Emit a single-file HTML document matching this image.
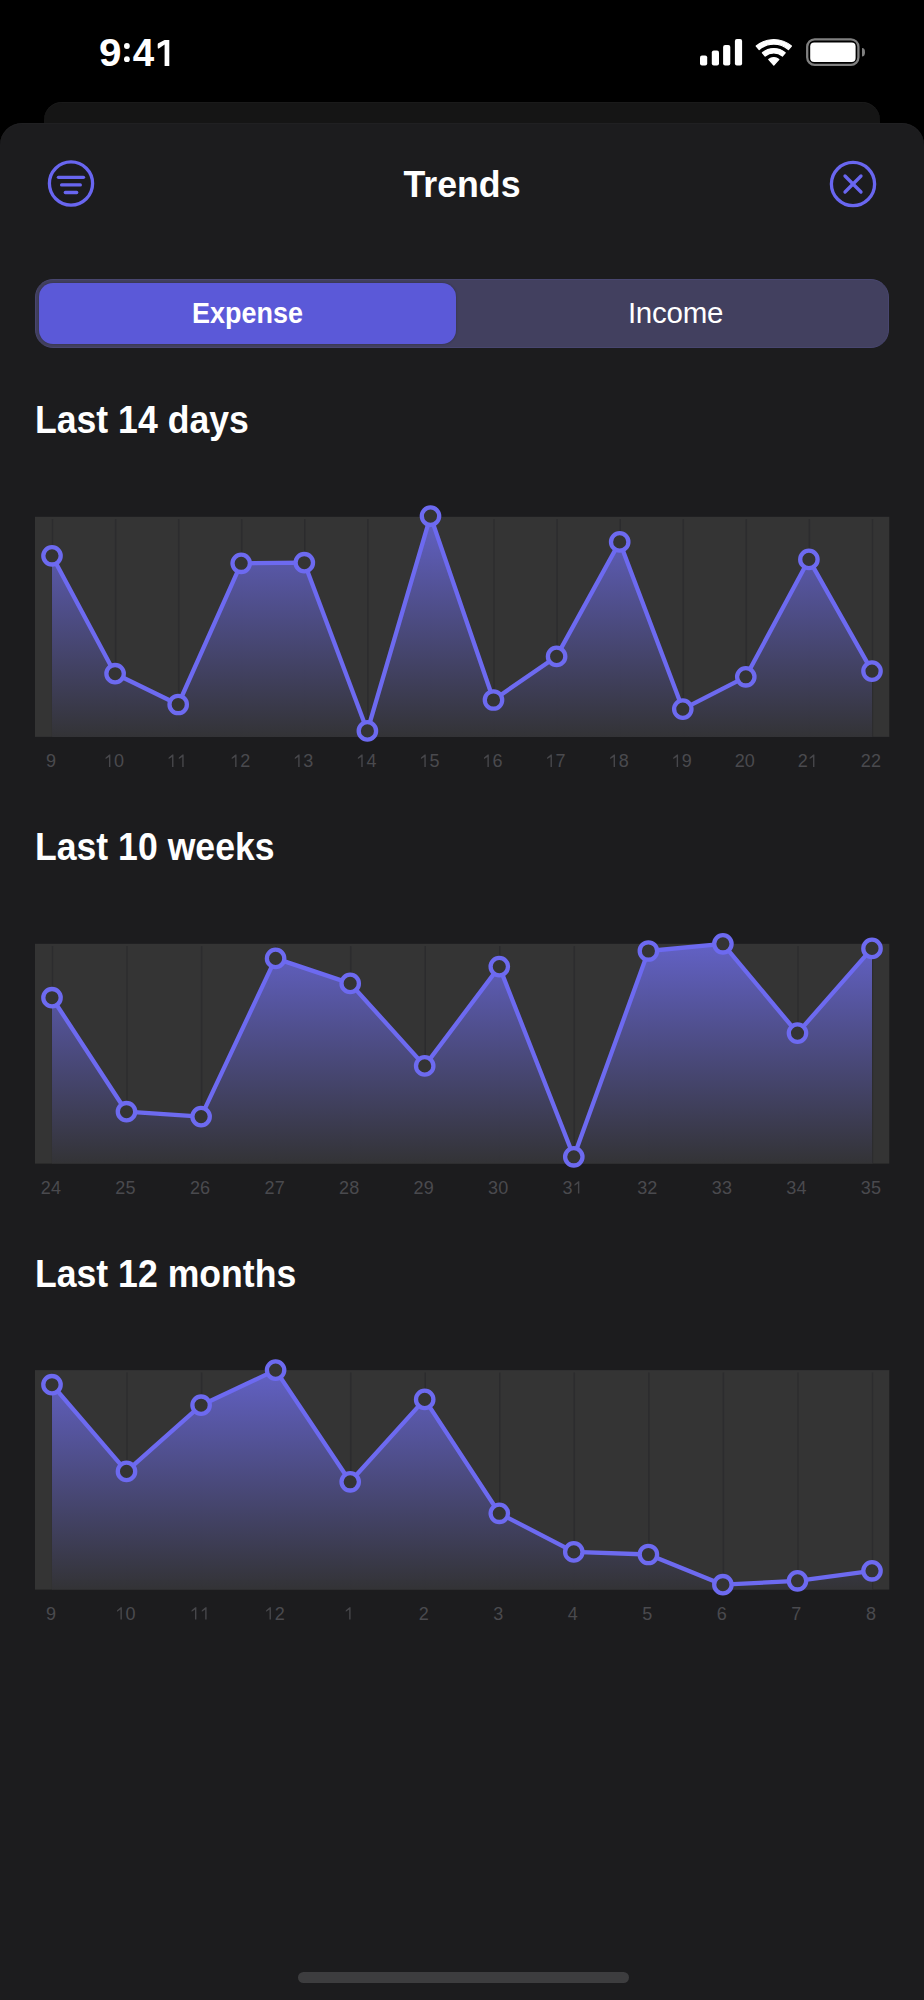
<!DOCTYPE html>
<html><head><meta charset="utf-8"><title>Trends</title>
<style>
*{margin:0;padding:0;box-sizing:border-box}
html,body{width:924px;height:2000px;overflow:hidden;background:#000;font-family:"Liberation Sans",sans-serif;color:#fff}
.abs{position:absolute}
.tm{top:30.5px;font-size:38.5px;font-weight:700;line-height:44px}
#back{left:43.7px;top:101.8px;width:836.6px;height:200px;background:#151515;border-radius:18px;box-shadow:inset 0 1px 0 #1a1a1a}
#sheet{left:0;top:122.8px;width:924px;height:1878px;background:#1c1c1e;border-radius:22px 22px 0 0;box-shadow:inset 0 1px 0 #202022}
#title{left:0;width:924px;top:165px;text-align:center;font-size:37px;font-weight:700;line-height:40px;letter-spacing:0;transform:scaleX(0.965);transform-origin:462px 0}
#seg{left:35px;top:279px;width:854.4px;height:69px;background:#42405f;border:1px solid #48466f;border-radius:18px}
#sel{left:39px;top:283px;width:417px;height:60.6px;background:#5b59d8;border-radius:14px;box-shadow:0 0 2.5px rgba(0,0,0,0.28)}
.segt{top:283px;height:61px;line-height:61px;text-align:center;font-size:27px}
#exp{left:39px;width:417px;font-weight:700;font-size:28.7px;transform:scaleX(0.94);transform-origin:208.5px 0}
#inc{left:461px;width:429px;font-size:29.5px;letter-spacing:-0.25px;top:282px}
.h2{left:35px;font-size:38.5px;font-weight:700;line-height:40px;letter-spacing:0;transform:scaleX(0.925);transform-origin:0 0;white-space:nowrap}
#home{left:297.5px;top:1971.5px;width:331px;height:11px;border-radius:6px;background:#3d3d3f}
svg text.lbl{font-family:"Liberation Sans",sans-serif;font-size:18px;fill:#4a4a4e}
svg path.one{fill:#47474b}
</style></head><body>
<div class="abs tm" style="left:99px;transform:scaleX(1.05);transform-origin:0 0">9</div><div class="abs tm" style="left:132.7px">4</div>
<svg class="abs" style="left:0;top:0" width="200" height="80" viewBox="0 0 200 80"><circle cx="126.9" cy="46" r="2.9" fill="#fff"/><circle cx="126.9" cy="59.2" r="2.9" fill="#fff"/><path d="M157.9,43.6 Q157.6,44.2 157.7,46.4 L157.8,48.2 Q158.3,48.9 159.2,48.3 L164.6,44.6 L164.6,65.9 L169.3,65.9 L169.3,39.9 L164.6,39.9 Z" fill="#fff"/></svg>
<svg class="abs" style="left:0;top:0" width="924" height="100" viewBox="0 0 924 100">
  <g fill="#fff">
    <rect x="700" y="55.6" width="7.2" height="10" rx="2"/>
    <rect x="711.8" y="50.6" width="7.2" height="15" rx="2"/>
    <rect x="723.1" y="44.9" width="7.2" height="20.7" rx="2"/>
    <rect x="734.9" y="38.9" width="7.2" height="26.7" rx="2"/>
  </g>
  <g fill="#fff" stroke="#fff" stroke-width="1.2" stroke-linejoin="round">
    <path d="M756.22,46.07A26.8,26.8 0 0 1 791.38,46.07L788.40,49.51A22.25,22.25 0 0 0 759.20,49.51Z"/>
    <path d="M762.42,52.74A17.7,17.7 0 0 1 785.18,52.74L782.41,56.04A13.4,13.4 0 0 0 765.19,56.04Z"/>
    <path d="M768.71,59.45A7.6,7.6 0 0 1 778.89,59.45L773.80,65.10Z"/>
  </g>
  <rect x="807.2" y="39.3" width="51.2" height="25.5" rx="7.5" fill="none" stroke="#808080" stroke-width="2.3"/>
  <rect x="810.2" y="42.6" width="45.4" height="19.4" rx="4" fill="#fff"/>
  <path d="M862,48 a3,4.2 0 0 1 0,8.4 z" fill="#808080"/>
</svg>
<div class="abs" id="back"></div>
<div class="abs" id="sheet"></div>
<svg class="abs" style="left:0;top:0" width="924" height="240" viewBox="0 0 924 240">
  <g fill="none" stroke="#6966f0" stroke-width="3.3" stroke-linecap="round">
    <circle cx="71" cy="183.5" r="21.6"/>
    <line x1="58.4" y1="177.3" x2="83.5" y2="177.3"/>
    <line x1="61.6" y1="184.9" x2="80.3" y2="184.9"/>
    <line x1="65.3" y1="192.5" x2="76.7" y2="192.5"/>
    <circle cx="853" cy="184" r="21.6"/>
    <line x1="845" y1="176" x2="861" y2="192"/>
    <line x1="861" y1="176" x2="845" y2="192"/>
  </g>
</svg>
<div class="abs" id="title">Trends</div>
<div class="abs" id="seg"></div>
<div class="abs" id="sel"></div>
<div class="abs segt" id="exp">Expense</div>
<div class="abs segt" id="inc">Income</div>
<div class="abs h2" style="top:400px">Last 14 days</div>
<div class="abs h2" style="top:827px">Last 10 weeks</div>
<div class="abs h2" style="top:1254px">Last 12 months</div>
<svg class="abs" style="left:0;top:0" width="924" height="2000" viewBox="0 0 924 2000">
<rect x="35" y="516.8" width="854.3" height="220.1" fill="#343434"/>
<line x1="52.5" y1="519.1" x2="52.5" y2="736.9" stroke="#2c2c2e" stroke-width="1.5"/>
<line x1="115.6" y1="519.1" x2="115.6" y2="736.9" stroke="#2c2c2e" stroke-width="1.5"/>
<line x1="178.7" y1="519.1" x2="178.7" y2="736.9" stroke="#2c2c2e" stroke-width="1.5"/>
<line x1="241.7" y1="519.1" x2="241.7" y2="736.9" stroke="#2c2c2e" stroke-width="1.5"/>
<line x1="304.8" y1="519.1" x2="304.8" y2="736.9" stroke="#2c2c2e" stroke-width="1.5"/>
<line x1="367.9" y1="519.1" x2="367.9" y2="736.9" stroke="#2c2c2e" stroke-width="1.5"/>
<line x1="431.0" y1="519.1" x2="431.0" y2="736.9" stroke="#2c2c2e" stroke-width="1.5"/>
<line x1="494.0" y1="519.1" x2="494.0" y2="736.9" stroke="#2c2c2e" stroke-width="1.5"/>
<line x1="557.1" y1="519.1" x2="557.1" y2="736.9" stroke="#2c2c2e" stroke-width="1.5"/>
<line x1="620.2" y1="519.1" x2="620.2" y2="736.9" stroke="#2c2c2e" stroke-width="1.5"/>
<line x1="683.3" y1="519.1" x2="683.3" y2="736.9" stroke="#2c2c2e" stroke-width="1.5"/>
<line x1="746.3" y1="519.1" x2="746.3" y2="736.9" stroke="#2c2c2e" stroke-width="1.5"/>
<line x1="809.4" y1="519.1" x2="809.4" y2="736.9" stroke="#2c2c2e" stroke-width="1.5"/>
<line x1="872.5" y1="519.1" x2="872.5" y2="736.9" stroke="#2c2c2e" stroke-width="1.5"/>
<linearGradient id="g1" gradientUnits="userSpaceOnUse" x1="0" y1="516.8" x2="0" y2="736.9"><stop offset="0" stop-color="#6463cb"/><stop offset="1" stop-color="#333336"/></linearGradient>
<polygon points="52.0,736.9 52.0,555.8 115.1,673.7 178.2,704.5 241.2,563.3 304.3,562.7 367.4,730.9 430.5,516.1 493.5,700.0 556.6,656.4 619.7,541.9 682.8,709.1 745.8,676.8 808.9,559.4 872.0,671.1 872.0,736.9" fill="url(#g1)" fill-opacity="0.96"/>
<polyline points="52.0,555.8 115.1,673.7 178.2,704.5 241.2,563.3 304.3,562.7 367.4,730.9 430.5,516.1 493.5,700.0 556.6,656.4 619.7,541.9 682.8,709.1 745.8,676.8 808.9,559.4 872.0,671.1" fill="none" stroke="#6d6af0" stroke-width="4.3" stroke-linejoin="round" stroke-linecap="round"/>
<circle cx="52.0" cy="555.8" r="8.7" fill="#343434" stroke="#6d6af0" stroke-width="4.3"/>
<circle cx="115.1" cy="673.7" r="8.7" fill="#343434" stroke="#6d6af0" stroke-width="4.3"/>
<circle cx="178.2" cy="704.5" r="8.7" fill="#343434" stroke="#6d6af0" stroke-width="4.3"/>
<circle cx="241.2" cy="563.3" r="8.7" fill="#343434" stroke="#6d6af0" stroke-width="4.3"/>
<circle cx="304.3" cy="562.7" r="8.7" fill="#343434" stroke="#6d6af0" stroke-width="4.3"/>
<circle cx="367.4" cy="730.9" r="8.7" fill="#343434" stroke="#6d6af0" stroke-width="4.3"/>
<circle cx="430.5" cy="516.1" r="8.7" fill="#343434" stroke="#6d6af0" stroke-width="4.3"/>
<circle cx="493.5" cy="700.0" r="8.7" fill="#343434" stroke="#6d6af0" stroke-width="4.3"/>
<circle cx="556.6" cy="656.4" r="8.7" fill="#343434" stroke="#6d6af0" stroke-width="4.3"/>
<circle cx="619.7" cy="541.9" r="8.7" fill="#343434" stroke="#6d6af0" stroke-width="4.3"/>
<circle cx="682.8" cy="709.1" r="8.7" fill="#343434" stroke="#6d6af0" stroke-width="4.3"/>
<circle cx="745.8" cy="676.8" r="8.7" fill="#343434" stroke="#6d6af0" stroke-width="4.3"/>
<circle cx="808.9" cy="559.4" r="8.7" fill="#343434" stroke="#6d6af0" stroke-width="4.3"/>
<circle cx="872.0" cy="671.1" r="8.7" fill="#343434" stroke="#6d6af0" stroke-width="4.3"/>
<text x="45.90" y="766.9" class="lbl">9</text>
<path class="one" d="M109.28,754.60L110.38,754.60L110.38,766.90L108.98,766.90L108.98,756.90L105.68,759.10L105.48,758.30L105.68,757.50Z"/>
<text x="114.08" y="766.9" class="lbl">0</text>
<path class="one" d="M172.35,754.60L173.45,754.60L173.45,766.90L172.05,766.90L172.05,756.90L168.75,759.10L168.55,758.30L168.75,757.50Z"/>
<path class="one" d="M182.55,754.60L183.65,754.60L183.65,766.90L182.25,766.90L182.25,756.90L178.95,759.10L178.75,758.30L178.95,757.50Z"/>
<path class="one" d="M235.43,754.60L236.53,754.60L236.53,766.90L235.13,766.90L235.13,756.90L231.83,759.10L231.63,758.30L231.83,757.50Z"/>
<text x="240.23" y="766.9" class="lbl">2</text>
<path class="one" d="M298.51,754.60L299.61,754.60L299.61,766.90L298.21,766.90L298.21,756.90L294.91,759.10L294.71,758.30L294.91,757.50Z"/>
<text x="303.31" y="766.9" class="lbl">3</text>
<path class="one" d="M361.58,754.60L362.68,754.60L362.68,766.90L361.28,766.90L361.28,756.90L357.98,759.10L357.78,758.30L357.98,757.50Z"/>
<text x="366.38" y="766.9" class="lbl">4</text>
<path class="one" d="M424.66,754.60L425.76,754.60L425.76,766.90L424.36,766.90L424.36,756.90L421.06,759.10L420.86,758.30L421.06,757.50Z"/>
<text x="429.46" y="766.9" class="lbl">5</text>
<path class="one" d="M487.74,754.60L488.84,754.60L488.84,766.90L487.44,766.90L487.44,756.90L484.14,759.10L483.94,758.30L484.14,757.50Z"/>
<text x="492.54" y="766.9" class="lbl">6</text>
<path class="one" d="M550.82,754.60L551.92,754.60L551.92,766.90L550.52,766.90L550.52,756.90L547.22,759.10L547.02,758.30L547.22,757.50Z"/>
<text x="555.62" y="766.9" class="lbl">7</text>
<path class="one" d="M613.89,754.60L614.99,754.60L614.99,766.90L613.59,766.90L613.59,756.90L610.29,759.10L610.09,758.30L610.29,757.50Z"/>
<text x="618.69" y="766.9" class="lbl">8</text>
<path class="one" d="M676.97,754.60L678.07,754.60L678.07,766.90L676.67,766.90L676.67,756.90L673.37,759.10L673.17,758.30L673.37,757.50Z"/>
<text x="681.77" y="766.9" class="lbl">9</text>
<text x="734.65" y="766.9" class="lbl">2</text>
<text x="744.85" y="766.9" class="lbl">0</text>
<text x="797.72" y="766.9" class="lbl">2</text>
<path class="one" d="M813.32,754.60L814.42,754.60L814.42,766.90L813.02,766.90L813.02,756.90L809.72,759.10L809.52,758.30L809.72,757.50Z"/>
<text x="860.80" y="766.9" class="lbl">2</text>
<text x="871.00" y="766.9" class="lbl">2</text>
<rect x="35" y="943.8" width="854.3" height="219.8" fill="#343434"/>
<line x1="52.5" y1="946.1" x2="52.5" y2="1163.6" stroke="#2c2c2e" stroke-width="1.5"/>
<line x1="127.0" y1="946.1" x2="127.0" y2="1163.6" stroke="#2c2c2e" stroke-width="1.5"/>
<line x1="201.6" y1="946.1" x2="201.6" y2="1163.6" stroke="#2c2c2e" stroke-width="1.5"/>
<line x1="276.1" y1="946.1" x2="276.1" y2="1163.6" stroke="#2c2c2e" stroke-width="1.5"/>
<line x1="350.7" y1="946.1" x2="350.7" y2="1163.6" stroke="#2c2c2e" stroke-width="1.5"/>
<line x1="425.2" y1="946.1" x2="425.2" y2="1163.6" stroke="#2c2c2e" stroke-width="1.5"/>
<line x1="499.8" y1="946.1" x2="499.8" y2="1163.6" stroke="#2c2c2e" stroke-width="1.5"/>
<line x1="574.3" y1="946.1" x2="574.3" y2="1163.6" stroke="#2c2c2e" stroke-width="1.5"/>
<line x1="648.9" y1="946.1" x2="648.9" y2="1163.6" stroke="#2c2c2e" stroke-width="1.5"/>
<line x1="723.4" y1="946.1" x2="723.4" y2="1163.6" stroke="#2c2c2e" stroke-width="1.5"/>
<line x1="798.0" y1="946.1" x2="798.0" y2="1163.6" stroke="#2c2c2e" stroke-width="1.5"/>
<line x1="872.5" y1="946.1" x2="872.5" y2="1163.6" stroke="#2c2c2e" stroke-width="1.5"/>
<linearGradient id="g2" gradientUnits="userSpaceOnUse" x1="0" y1="943.8" x2="0" y2="1163.6"><stop offset="0" stop-color="#6463cb"/><stop offset="1" stop-color="#333336"/></linearGradient>
<polygon points="52.0,1163.6 52.0,997.7 126.5,1111.7 201.1,1116.6 275.6,958.4 350.2,983.4 424.7,1065.9 499.3,966.6 573.8,1156.8 648.4,951.0 722.9,943.8 797.5,1033.1 872.0,948.4 872.0,1163.6" fill="url(#g2)" fill-opacity="0.96"/>
<polyline points="52.0,997.7 126.5,1111.7 201.1,1116.6 275.6,958.4 350.2,983.4 424.7,1065.9 499.3,966.6 573.8,1156.8 648.4,951.0 722.9,943.8 797.5,1033.1 872.0,948.4" fill="none" stroke="#6d6af0" stroke-width="4.3" stroke-linejoin="round" stroke-linecap="round"/>
<circle cx="52.0" cy="997.7" r="8.7" fill="#343434" stroke="#6d6af0" stroke-width="4.3"/>
<circle cx="126.5" cy="1111.7" r="8.7" fill="#343434" stroke="#6d6af0" stroke-width="4.3"/>
<circle cx="201.1" cy="1116.6" r="8.7" fill="#343434" stroke="#6d6af0" stroke-width="4.3"/>
<circle cx="275.6" cy="958.4" r="8.7" fill="#343434" stroke="#6d6af0" stroke-width="4.3"/>
<circle cx="350.2" cy="983.4" r="8.7" fill="#343434" stroke="#6d6af0" stroke-width="4.3"/>
<circle cx="424.7" cy="1065.9" r="8.7" fill="#343434" stroke="#6d6af0" stroke-width="4.3"/>
<circle cx="499.3" cy="966.6" r="8.7" fill="#343434" stroke="#6d6af0" stroke-width="4.3"/>
<circle cx="573.8" cy="1156.8" r="8.7" fill="#343434" stroke="#6d6af0" stroke-width="4.3"/>
<circle cx="648.4" cy="951.0" r="8.7" fill="#343434" stroke="#6d6af0" stroke-width="4.3"/>
<circle cx="722.9" cy="943.8" r="8.7" fill="#343434" stroke="#6d6af0" stroke-width="4.3"/>
<circle cx="797.5" cy="1033.1" r="8.7" fill="#343434" stroke="#6d6af0" stroke-width="4.3"/>
<circle cx="872.0" cy="948.4" r="8.7" fill="#343434" stroke="#6d6af0" stroke-width="4.3"/>
<text x="40.80" y="1193.6" class="lbl">2</text>
<text x="51.00" y="1193.6" class="lbl">4</text>
<text x="115.35" y="1193.6" class="lbl">2</text>
<text x="125.55" y="1193.6" class="lbl">5</text>
<text x="189.89" y="1193.6" class="lbl">2</text>
<text x="200.09" y="1193.6" class="lbl">6</text>
<text x="264.44" y="1193.6" class="lbl">2</text>
<text x="274.64" y="1193.6" class="lbl">7</text>
<text x="338.98" y="1193.6" class="lbl">2</text>
<text x="349.18" y="1193.6" class="lbl">8</text>
<text x="413.53" y="1193.6" class="lbl">2</text>
<text x="423.73" y="1193.6" class="lbl">9</text>
<text x="488.07" y="1193.6" class="lbl">3</text>
<text x="498.27" y="1193.6" class="lbl">0</text>
<text x="562.62" y="1193.6" class="lbl">3</text>
<path class="one" d="M578.22,1181.30L579.32,1181.30L579.32,1193.60L577.92,1193.60L577.92,1183.60L574.62,1185.80L574.42,1185.00L574.62,1184.20Z"/>
<text x="637.16" y="1193.6" class="lbl">3</text>
<text x="647.36" y="1193.6" class="lbl">2</text>
<text x="711.71" y="1193.6" class="lbl">3</text>
<text x="721.91" y="1193.6" class="lbl">3</text>
<text x="786.25" y="1193.6" class="lbl">3</text>
<text x="796.45" y="1193.6" class="lbl">4</text>
<text x="860.80" y="1193.6" class="lbl">3</text>
<text x="871.00" y="1193.6" class="lbl">5</text>
<rect x="35" y="1370.1" width="854.3" height="219.5" fill="#343434"/>
<line x1="52.5" y1="1372.4" x2="52.5" y2="1589.6" stroke="#2c2c2e" stroke-width="1.5"/>
<line x1="127.0" y1="1372.4" x2="127.0" y2="1589.6" stroke="#2c2c2e" stroke-width="1.5"/>
<line x1="201.6" y1="1372.4" x2="201.6" y2="1589.6" stroke="#2c2c2e" stroke-width="1.5"/>
<line x1="276.1" y1="1372.4" x2="276.1" y2="1589.6" stroke="#2c2c2e" stroke-width="1.5"/>
<line x1="350.7" y1="1372.4" x2="350.7" y2="1589.6" stroke="#2c2c2e" stroke-width="1.5"/>
<line x1="425.2" y1="1372.4" x2="425.2" y2="1589.6" stroke="#2c2c2e" stroke-width="1.5"/>
<line x1="499.8" y1="1372.4" x2="499.8" y2="1589.6" stroke="#2c2c2e" stroke-width="1.5"/>
<line x1="574.3" y1="1372.4" x2="574.3" y2="1589.6" stroke="#2c2c2e" stroke-width="1.5"/>
<line x1="648.9" y1="1372.4" x2="648.9" y2="1589.6" stroke="#2c2c2e" stroke-width="1.5"/>
<line x1="723.4" y1="1372.4" x2="723.4" y2="1589.6" stroke="#2c2c2e" stroke-width="1.5"/>
<line x1="798.0" y1="1372.4" x2="798.0" y2="1589.6" stroke="#2c2c2e" stroke-width="1.5"/>
<line x1="872.5" y1="1372.4" x2="872.5" y2="1589.6" stroke="#2c2c2e" stroke-width="1.5"/>
<linearGradient id="g3" gradientUnits="userSpaceOnUse" x1="0" y1="1370.1" x2="0" y2="1589.6"><stop offset="0" stop-color="#6463cb"/><stop offset="1" stop-color="#333336"/></linearGradient>
<polygon points="52.0,1589.6 52.0,1384.7 126.5,1471.4 201.1,1405.2 275.6,1370.1 350.2,1481.8 424.7,1399.4 499.3,1513.3 573.8,1551.9 648.4,1554.5 722.9,1584.7 797.5,1580.8 872.0,1570.8 872.0,1589.6" fill="url(#g3)" fill-opacity="0.96"/>
<polyline points="52.0,1384.7 126.5,1471.4 201.1,1405.2 275.6,1370.1 350.2,1481.8 424.7,1399.4 499.3,1513.3 573.8,1551.9 648.4,1554.5 722.9,1584.7 797.5,1580.8 872.0,1570.8" fill="none" stroke="#6d6af0" stroke-width="4.3" stroke-linejoin="round" stroke-linecap="round"/>
<circle cx="52.0" cy="1384.7" r="8.7" fill="#343434" stroke="#6d6af0" stroke-width="4.3"/>
<circle cx="126.5" cy="1471.4" r="8.7" fill="#343434" stroke="#6d6af0" stroke-width="4.3"/>
<circle cx="201.1" cy="1405.2" r="8.7" fill="#343434" stroke="#6d6af0" stroke-width="4.3"/>
<circle cx="275.6" cy="1370.1" r="8.7" fill="#343434" stroke="#6d6af0" stroke-width="4.3"/>
<circle cx="350.2" cy="1481.8" r="8.7" fill="#343434" stroke="#6d6af0" stroke-width="4.3"/>
<circle cx="424.7" cy="1399.4" r="8.7" fill="#343434" stroke="#6d6af0" stroke-width="4.3"/>
<circle cx="499.3" cy="1513.3" r="8.7" fill="#343434" stroke="#6d6af0" stroke-width="4.3"/>
<circle cx="573.8" cy="1551.9" r="8.7" fill="#343434" stroke="#6d6af0" stroke-width="4.3"/>
<circle cx="648.4" cy="1554.5" r="8.7" fill="#343434" stroke="#6d6af0" stroke-width="4.3"/>
<circle cx="722.9" cy="1584.7" r="8.7" fill="#343434" stroke="#6d6af0" stroke-width="4.3"/>
<circle cx="797.5" cy="1580.8" r="8.7" fill="#343434" stroke="#6d6af0" stroke-width="4.3"/>
<circle cx="872.0" cy="1570.8" r="8.7" fill="#343434" stroke="#6d6af0" stroke-width="4.3"/>
<text x="45.90" y="1619.6" class="lbl">9</text>
<path class="one" d="M120.75,1607.30L121.85,1607.30L121.85,1619.60L120.45,1619.60L120.45,1609.60L117.15,1611.80L116.95,1611.00L117.15,1610.20Z"/>
<text x="125.55" y="1619.6" class="lbl">0</text>
<path class="one" d="M195.29,1607.30L196.39,1607.30L196.39,1619.60L194.99,1619.60L194.99,1609.60L191.69,1611.80L191.49,1611.00L191.69,1610.20Z"/>
<path class="one" d="M205.49,1607.30L206.59,1607.30L206.59,1619.60L205.19,1619.60L205.19,1609.60L201.89,1611.80L201.69,1611.00L201.89,1610.20Z"/>
<path class="one" d="M269.84,1607.30L270.94,1607.30L270.94,1619.60L269.54,1619.60L269.54,1609.60L266.24,1611.80L266.04,1611.00L266.24,1610.20Z"/>
<text x="274.64" y="1619.6" class="lbl">2</text>
<path class="one" d="M349.48,1607.30L350.58,1607.30L350.58,1619.60L349.18,1619.60L349.18,1609.60L345.88,1611.80L345.68,1611.00L345.88,1610.20Z"/>
<text x="418.63" y="1619.6" class="lbl">2</text>
<text x="493.17" y="1619.6" class="lbl">3</text>
<text x="567.72" y="1619.6" class="lbl">4</text>
<text x="642.26" y="1619.6" class="lbl">5</text>
<text x="716.81" y="1619.6" class="lbl">6</text>
<text x="791.35" y="1619.6" class="lbl">7</text>
<text x="865.90" y="1619.6" class="lbl">8</text>
</svg>
<div class="abs" id="home"></div>
</body></html>
